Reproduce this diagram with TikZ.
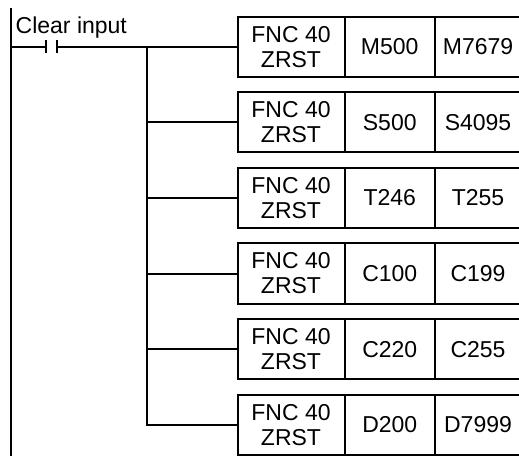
\documentclass[tikz,border=0pt]{standalone}
\usepackage{fontspec}
\setmainfont{Liberation Sans}
\usetikzlibrary{calc}
\tikzset{
  wire/.style={draw=black, line width=2bp, line join=miter},
  bar/.style={draw=black, line width=2bp},
  cell/.style={draw=black, line width=2bp, rectangle, inner sep=0pt, minimum height=60bp,
    align=center, font=\fontsize{23bp}{25bp}\selectfont},
  lab/.style={text=black, inner sep=0pt, font=\fontsize{23bp}{25bp}\selectfont},
}
\begin{document}
\begin{tikzpicture}[x=1bp,y=-1bp]
  \useasboundingbox (0,0) rectangle (519,456);
  \clip (0,0) rectangle (519,456);
  \def\gap{75.6}
  % left rail
  \coordinate (railtop) at (11,8);
  \coordinate (railbot) at (11,456);
  \draw[wire] (railtop) -- (railbot);
  % instruction blocks
  \foreach \i/\src/\dst in {1/M500/M7679, 2/S500/S4095, 3/T246/T255,
                            4/C100/C199, 5/C220/C255, 6/D200/D7999} {
    \pgfmathsetmacro\yc{46.7+\gap*(\i-1)}
    \coordinate (br\i) at (147,\yc);
    \node[cell, minimum width=107bp] (fnc\i) at (291,\yc) {FNC 40\\ZRST};
    \node[cell, minimum width=90.5bp] (src\i) at (389.75,\yc) {\src};
    \node[cell, minimum width=86bp] (dst\i) at (478,\yc) {\dst};
  }
  % contact
  \coordinate (rail1) at (11,46.7);
  \coordinate (ca) at (45.7,46.7);
  \coordinate (cb) at (56.7,46.7);
  \draw[wire] (rail1) -- (ca);
  \draw[bar] ($(ca)+(0,-6.7)$) -- ($(ca)+(0,6.7)$);
  \draw[bar] ($(cb)+(0,-6.7)$) -- ($(cb)+(0,6.7)$);
  \node[lab, anchor=base west] (clr) at (15.5,33.3) {Clear input};
  % rungs
  \draw[wire] (cb) -- (fnc1.west);
  \draw[wire] (br1) -- (br6) -- (fnc6.west);
  \foreach \i in {2,...,5}
    \draw[wire] (br\i) -- (fnc\i.west);
\end{tikzpicture}
\end{document}
